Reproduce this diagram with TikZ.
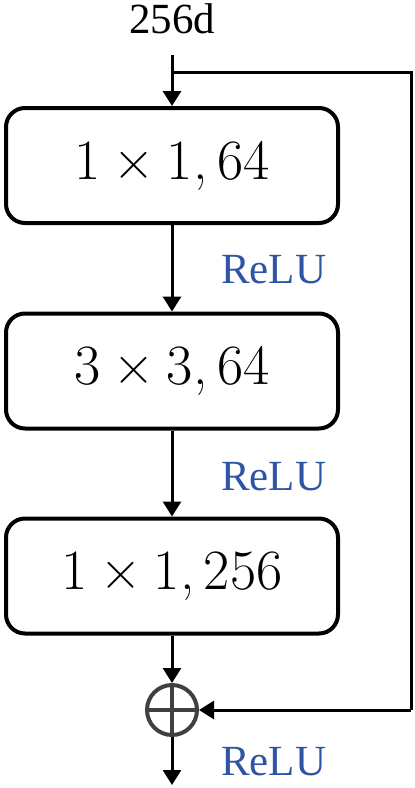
\documentclass[tikz,border=0pt]{standalone}
\usepackage{fontspec}
\newfontfamily\timesfont{Liberation Serif}
\usetikzlibrary{arrows.meta}
\definecolor{relublue}{HTML}{2E55A3}
\definecolor{sumgray}{HTML}{404040}
\newcommand{\binsp}{\hspace{0.22em}}
\newcommand{\commasp}{\hspace{0.17em}}
\begin{document}
\begin{tikzpicture}[x=1pt,y=-1pt,
  layerbox/.style={draw=black,line width=4pt,rounded corners=19pt,minimum width=332pt,minimum height=115pt,inner sep=0pt,font=\fontsize{57}{62}\selectfont},
  relulabel/.style={text=relublue,anchor=base west,inner sep=0pt,font=\timesfont\fontsize{43}{48}\selectfont},
  conn/.style={line width=3pt,-{Triangle[width=18pt,length=15pt]}},
  plainline/.style={line width=3pt},
  sumnode/.style={circle,draw=sumgray,line width=4pt,minimum size=50pt,inner sep=0pt}]
\useasboundingbox (0,0) rectangle (415,788);
\node[inner sep=0pt,font=\timesfont\fontsize{43}{48}\selectfont] (inlabel) at (172,19) {256d};
\coordinate (start) at (172,55);
\coordinate (split) at (172,72);
\coordinate (corner1) at (411,72);
\coordinate (corner2) at (411,710);
\node[layerbox] (b1) at (172,165.5) {1\binsp×\binsp1,\commasp64};
\node[layerbox] (b2) at (172,371) {3\binsp×\binsp3,\commasp64};
\node[layerbox] (b3) at (172,576) {1\binsp×\binsp1,\commasp256};
\node[sumnode] (sum) at (172,710) {};
\coordinate (out) at (172,785);
\draw[sumgray,line width=4pt] (sum.north) -- (sum.south) (sum.west) -- (sum.east);
\draw[conn] (start) -- (b1.north);
\draw[plainline] (split) -- (corner1) -- (corner2);
\draw[conn] (corner2) -- (sum.east);
\draw[conn] (b1.south) -- (b2.north);
\draw[conn] (b2.south) -- (b3.north);
\draw[conn] (b3.south) -- (sum.north);
\draw[conn] (sum.south) -- (out);
\node[relulabel] (r1) at (221,283) {ReLU};
\node[relulabel] (r2) at (221,490) {ReLU};
\node[relulabel] (r3) at (221,775) {ReLU};
\end{tikzpicture}
\end{document}
